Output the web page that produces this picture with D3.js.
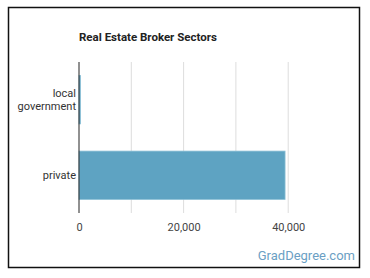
<!DOCTYPE html>
<html>
<head>
<meta charset="utf-8">
<script src="https://cdn.jsdelivr.net/npm/d3@7"></script>
<style>
  body { margin: 0; background: #fff; font-family: Roboto, "Noto Sans", sans-serif; }
</style>
</head>
<body>
<svg id="chart"></svg>
<script>
// Data
var categories = [["local", "government"], ["private"]];
var values = [300, 39400];
var ticks = [0, 10000, 20000, 30000, 40000, 50000];
var tickLabels = ["0", "", "20,000", "", "40,000", ""];

var width = 370,
    height = 278;

var svg = d3.select("#chart")
    .attr("width", width)
    .attr("height", height);

// Frame
svg.append("rect")
    .attr("x", 8.5).attr("y", 7.5)
    .attr("width", 351).attr("height", 260)
    .attr("fill", "#fff")
    .attr("stroke", "#111").attr("stroke-width", 1.5);

var margin = { left: 79, right: 29.5, top: 62, bottom: 65 };

var x = d3.scaleLinear()
    .domain([0, 50000])
    .range([margin.left, width - margin.right]);

var y = d3.scaleBand()
    .domain(d3.range(categories.length))
    .range([margin.top, height - margin.bottom])
    .paddingInner(0.36)
    .paddingOuter(0.18);

// Title
svg.append("text")
    .attr("x", margin.left).attr("y", 41)
    .attr("font-size", 11.5).attr("font-weight", "bold")
    .attr("fill", "#222")
    .text("Real Estate Broker Sectors");

// Gridlines
svg.append("g").selectAll("line")
    .data(ticks.slice(1, 5)).enter()
    .append("line")
    .attr("x1", function (d) { return x(d); })
    .attr("x2", function (d) { return x(d); })
    .attr("y1", margin.top).attr("y2", height - margin.bottom)
    .attr("stroke", "#ddd").attr("stroke-width", 1);

// Bars
svg.append("g").selectAll("rect")
    .data(values).enter()
    .append("rect")
    .attr("x", x(0))
    .attr("y", function (d, i) { return y(i); })
    .attr("width", function (d) { return x(d) - x(0); })
    .attr("height", y.bandwidth())
    .attr("fill", "#5ea3c2")
    .attr("stroke", "#8cc0d6").attr("stroke-width", 0.8);

// X axis
var xAxis = d3.axisBottom(x)
    .tickValues(ticks)
    .tickSize(0)
    .tickPadding(10)
    .tickFormat(function (d, i) { return tickLabels[i]; });

var gx = svg.append("g")
    .attr("transform", "translate(0," + (height - margin.bottom) + ")")
    .call(xAxis);
gx.select(".domain").remove();
gx.selectAll("text")
    .attr("font-family", "Roboto, sans-serif")
    .attr("font-size", 11).attr("fill", "#444");

// Y axis labels
var gy = svg.append("g");
gy.selectAll("text")
    .data(categories).enter()
    .append("text")
    .attr("text-anchor", "end")
    .attr("font-size", 11).attr("fill", "#333")
    .each(function (d, i) {
        var t = d3.select(this);
        var cy = y(i) + y.bandwidth() / 2;
        var lh = 13;
        d.forEach(function (line, j) {
            t.append("tspan")
                .attr("x", margin.left - 3)
                .attr("y", cy + 4 + (j - (d.length - 1) / 2) * lh)
                .text(line);
        });
    });

// Axis line
svg.append("line")
    .attr("x1", x(0)).attr("x2", x(0))
    .attr("y1", margin.top).attr("y2", height - margin.bottom)
    .attr("stroke", "#222").attr("stroke-width", 1);

// Watermark
svg.append("text")
    .attr("x", 355).attr("y", 260)
    .attr("text-anchor", "end")
    .attr("font-size", 13)
    .attr("fill", "#6b9fc4")
    .text("GradDegree.com");
</script>
</body>
</html>
